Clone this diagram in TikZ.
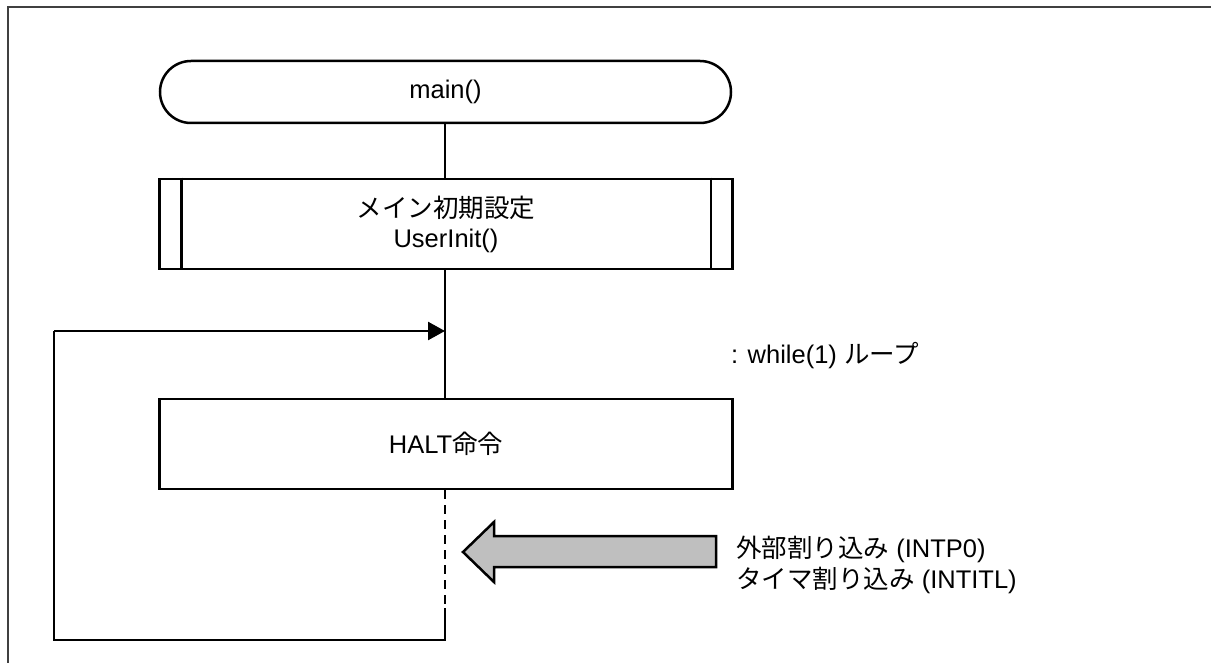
\documentclass[tikz,border=0pt]{standalone}
\usepackage{fontspec}
\setmainfont{Liberation Sans}
\newfontfamily\jp{Noto Sans CJK JP}
\usetikzlibrary{arrows.meta}
\begin{document}
\begin{tikzpicture}[x=1pt,y=-1pt,
  ln/.style={line width=2.5pt,black},
  box/.style={draw,ln,fill=white,minimum width=573pt,minimum height=90pt,inner sep=0pt,align=center,font=\fontsize{25.5}{30}\selectfont},
  term/.style={draw,ln,fill=white,rounded corners=31pt,minimum width=571pt,minimum height=62pt,inner sep=0pt,font=\fontsize{25.5}{30}\selectfont},
  lbl/.style={inner sep=0pt,anchor=west,align=left,font=\fontsize{25.5}{31}\selectfont}]
\useasboundingbox (0,0) rectangle (1211,663);
% frame
\draw[line width=2pt,black!75] (8,663) -- (8,7) -- (1211,7);
% nodes
\node[term] (main) at (445.5,92) {main()};
\node[box,minimum height=90pt] (init) at (446,224) {{\jp メイン初期設定}\\UserInit()};
\draw[ln] ([xshift=23pt]init.north west) -- ([xshift=23pt]init.south west);
\draw[ln] ([xshift=-23pt]init.north east) -- ([xshift=-23pt]init.south east);
\node[box] (halt) at (446,444) {HALT{\jp 命令}};
\node[lbl] (loop) at (731,356) {: while(1) {\jp ループ}};
\node[lbl] (intr) at (736,565) {{\jp 外部割り込み} (INTP0)\\{\jp タイマ割り込み} (INTITL)};
% coordinates
\coordinate (lj) at (445,331);
\coordinate (dsh) at (445,608);
\coordinate (bot) at (445,640);
\coordinate (bl) at (54,640);
\coordinate (tl) at (54,331);
% connectors
\draw[ln] (main.south -| lj) -- (init.north -| lj);
\draw[ln] (init.south -| lj) -- (halt.north -| lj);
\draw[ln,dash pattern=on 9pt off 6pt] (halt.south -| lj) -- (dsh);
\draw[ln] (dsh) -- (bot) -- (bl) -- (tl);
\draw[ln,-{Triangle[length=17pt,width=18pt]}] (tl) -- (lj);
% block arrow
\draw[ln,fill=black!25,line join=miter] (463,552) -- (494,522) -- (494,536) -- (716,536) -- (716,567) -- (494,567) -- (494,582) -- cycle;
\end{tikzpicture}
\end{document}
